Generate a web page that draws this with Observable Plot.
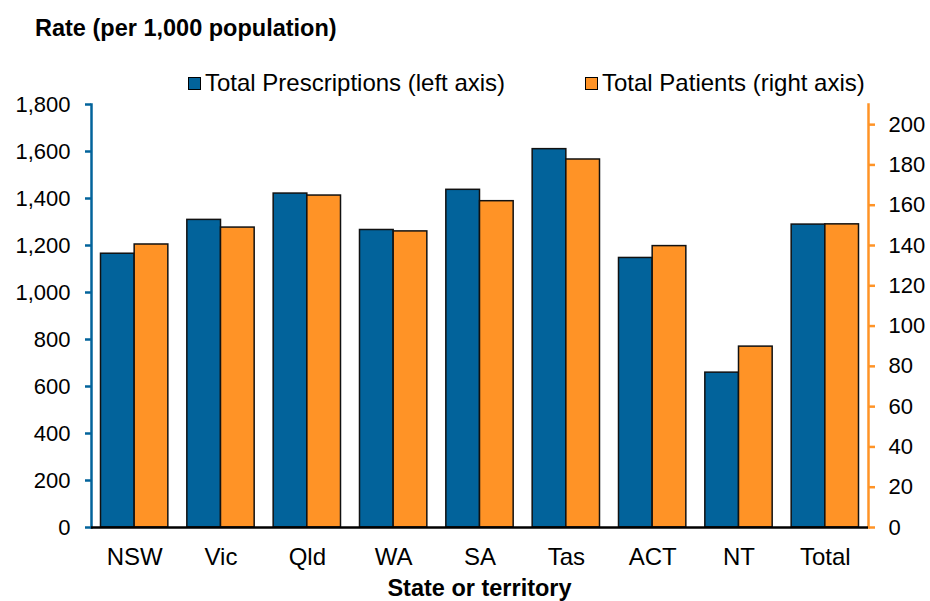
<!DOCTYPE html>
<html>
<head>
<meta charset="utf-8">
<script src="https://cdn.jsdelivr.net/npm/d3@7"></script>
<script src="https://cdn.jsdelivr.net/npm/@observablehq/plot@0.6"></script>
<style>
  body { margin: 0; background: #fff; font-family: "Liberation Sans", Arial, sans-serif; color: #000; }
  #wrap { position: relative; width: 930px; height: 601px; overflow: hidden; }
  .abs { position: absolute; white-space: nowrap; }
  #title { left: 35px; top: 14px; height: 28px; line-height: 28px; font-weight: bold; font-size: 23.5px; }
  .leg { top: 71px; height: 24px; line-height: 24px; font-size: 24px; display: flex; align-items: center; }
  .sw { width: 11px; height: 11px; border: 1px solid #000; margin-right: 4px; }
  #xtitle { left: 91px; width: 777px; top: 575px; height: 26px; line-height: 26px; text-align: center; font-weight: bold; font-size: 23.5px; }
  #chart { left: 0; top: 75px; }
</style>
</head>
<body>
<div id="wrap">
  <div id="chart" class="abs"></div>
  <div id="title" class="abs">Rate (per 1,000 population)</div>
  <div id="leg1" class="abs leg"><span class="sw" id="sw1"></span><span id="lt1"></span></div>
  <div id="leg2" class="abs leg"><span class="sw" id="sw2"></span><span id="lt2"></span></div>
  <div id="xtitle" class="abs">State or territory</div>
</div>
<script>
// ---- data ----
const states = ["NSW", "Vic", "Qld", "WA", "SA", "Tas", "ACT", "NT", "Total"];
const prescriptions = [1165, 1309, 1421, 1266, 1437, 1610, 1147, 659, 1289];   // left axis
const patients = [140.5, 148.9, 164.8, 147.0, 162.0, 182.7, 139.7, 89.8, 150.5]; // right axis
const seriesNames = ["Total Prescriptions (left axis)", "Total Patients (right axis)"];
const leftTicks = [0, 200, 400, 600, 800, 1000, 1200, 1400, 1600, 1800];
const rightTicks = [0, 20, 40, 60, 80, 100, 120, 140, 160, 180, 200];
const leftMax = 1800;
const rightMax = 210;

// ---- style ----
const blue = "#02639B";
const orange = "#FF9326";
const W = 930, H = 500, ml = 91, mr = 62, mt = 29, mb = 48;
const pIn = 0.22, pOut = 0.11;

const k = leftMax / rightMax;
const rows = states.map((s, i) => ({state: s, presc: prescriptions[i], pat: patients[i] * k}));
const step = (W - ml - mr) / (states.length - pIn + 2 * pOut);
const half = step * (1 - pIn) / 2;

document.getElementById("sw1").style.background = blue;
document.getElementById("sw2").style.background = orange;
document.getElementById("lt1").textContent = seriesNames[0];
document.getElementById("lt2").textContent = seriesNames[1];
document.getElementById("leg1").style.left = "188px";
document.getElementById("leg2").style.left = "585px";

const chart = Plot.plot({
  width: W, height: H,
  marginTop: mt, marginBottom: mb, marginLeft: ml, marginRight: mr,
  style: {fontFamily: "'Liberation Sans', Arial, sans-serif", fontSize: "22px", color: "#000", background: "transparent"},
  x: {type: "band", domain: states, paddingInner: pIn, paddingOuter: pOut, round: false, label: null},
  y: {domain: [0, leftMax], label: null},
  marks: [
    Plot.barY(rows, {x: "state", y: "presc", fill: blue, stroke: "#111", strokeWidth: 1.5, insetRight: half}),
    Plot.barY(rows, {x: "state", y: "pat", fill: orange, stroke: "#111", strokeWidth: 1.5, insetLeft: half}),
    Plot.frame({anchor: "left", stroke: blue, strokeWidth: 2.5}),
    Plot.frame({anchor: "right", stroke: orange, strokeWidth: 2.5}),
    Plot.ruleY([0], {stroke: "#000", strokeWidth: 2.5}),
    Plot.axisY({anchor: "left", ticks: leftTicks, tickFormat: d3.format(","), tickSize: 6, tickPadding: 15,
      stroke: blue, strokeWidth: 2.5, fill: "#000", label: null}),
    Plot.axisY({anchor: "right", ticks: rightTicks.map(v => v * k), tickFormat: d => d3.format(",")(Math.round(d / k)),
      tickSize: 6, tickPadding: 14, stroke: orange, strokeWidth: 2.5, fill: "#000", label: null}),
    Plot.axisX({tickSize: 0, tickPadding: 20, label: null, fill: "#000", fontSize: 24})
  ]
});
document.getElementById("chart").appendChild(chart);
</script>
</body>
</html>
